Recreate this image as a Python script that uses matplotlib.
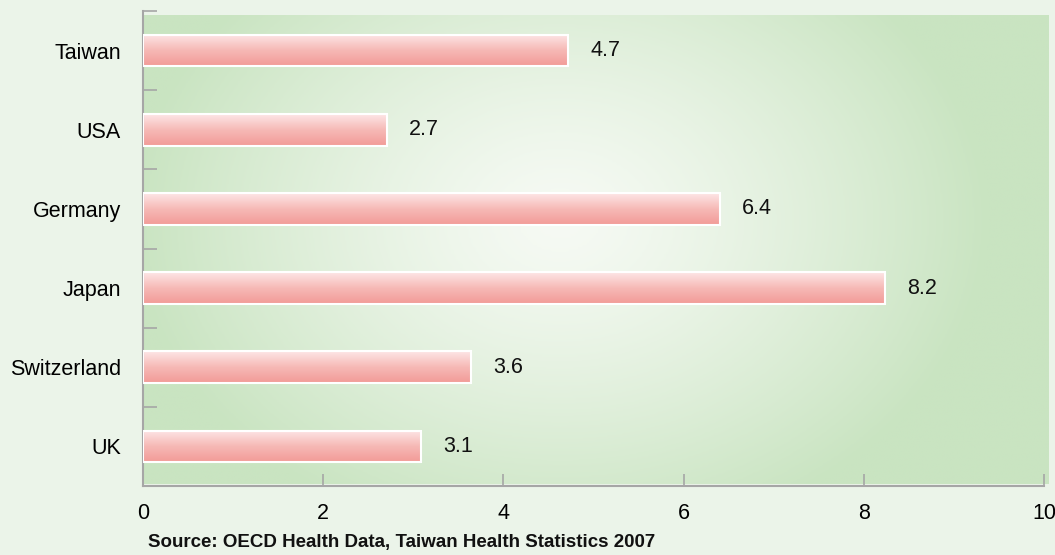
import numpy as np
import matplotlib.pyplot as plt
from matplotlib.colors import LinearSegmentedColormap

countries = ["Taiwan", "USA", "Germany", "Japan", "Switzerland", "UK"]
values = [4.72, 2.71, 6.40, 8.24, 3.64, 3.09]
x_ticks = [0, 2, 4, 6, 8, 10]
source = "Source: OECD Health Data, Taiwan Health Statistics 2007"

plt.rcParams["font.family"] = ["Liberation Sans", "DejaVu Sans"]

W, H = 1055, 555
fig = plt.figure(figsize=(W / 100, H / 100), dpi=100, facecolor="#EBF4E9")

# === green panel with a soft light centre ===
bg = fig.add_axes([143 / W, 1 - 484 / H, (1049 - 143) / W, (484 - 15) / H])
bg.set_axis_off()
gx, gy = np.meshgrid(np.linspace(143, 1049, 400), np.linspace(15, 484, 200))
t = np.sqrt(((gx - 560) / 430) ** 2 + ((gy - 220) / 330) ** 2)
t = np.clip(t, 0, 1) ** 1.3
bg_cmap = LinearSegmentedColormap.from_list("bg", ["#F6FAF4", "#C9E4C1"])
bg.imshow(t, cmap=bg_cmap, vmin=0, vmax=1, aspect="auto", extent=[0, 1, 0, 1])

# === main axes ===
ax = fig.add_axes([143 / W, 1 - 486 / H, (1044 - 143) / W, (486 - 11) / H])
ax.patch.set_alpha(0)

ypos = np.arange(len(countries))
bars = ax.barh(ypos, values, height=0.4, facecolor="none",
               edgecolor="white", linewidth=1.5, zorder=3)

bar_cmap = LinearSegmentedColormap.from_list("bar", ["#FDE6E6", "#F6B9B6", "#F29B97"])
grad = np.linspace(0, 1, 64).reshape(-1, 1)
for bar in bars:
    x0, y0 = bar.get_x(), bar.get_y()
    x1, y1 = x0 + bar.get_width(), y0 + bar.get_height()
    ax.imshow(grad, cmap=bar_cmap, aspect="auto", extent=[x0, x1, y1, y0],
              clip_path=bar, zorder=2)

for i, v in enumerate(values):
    ax.annotate(f"{v:.1f}", xy=(v, i), xytext=(22, 0), textcoords="offset pixels",
                va="center", ha="left", fontsize=15.5, color="#111111")

ax.set_xlim(0, 10)
ax.set_ylim(len(countries) - 0.5, -0.5)
ax.set_xticks(x_ticks)
ax.set_xticklabels([str(x) for x in x_ticks], fontsize=15.5)
ax.set_yticks(ypos)
ax.set_yticklabels(countries, fontsize=15.5)
ax.set_yticks(np.arange(-0.5, len(countries), 1), minor=True)

ax.tick_params(axis="y", which="major", length=0, pad=16)
ax.tick_params(axis="y", which="minor", direction="in", length=10,
               width=1.2, color="#A6A6A6")
ax.tick_params(axis="x", direction="in", length=8.5, width=1.2,
               color="#A6A6A6", pad=12)

for side in ["top", "right"]:
    ax.spines[side].set_visible(False)
for side in ["left", "bottom"]:
    ax.spines[side].set_color("#A6A6A6")
    ax.spines[side].set_linewidth(1.5)

fig.text(148 / W, 1 - 542 / H, source, fontsize=13.5, fontweight="bold",
         va="center", ha="left", color="#111111")

fig.savefig("out.png", dpi=100, facecolor=fig.get_facecolor())
